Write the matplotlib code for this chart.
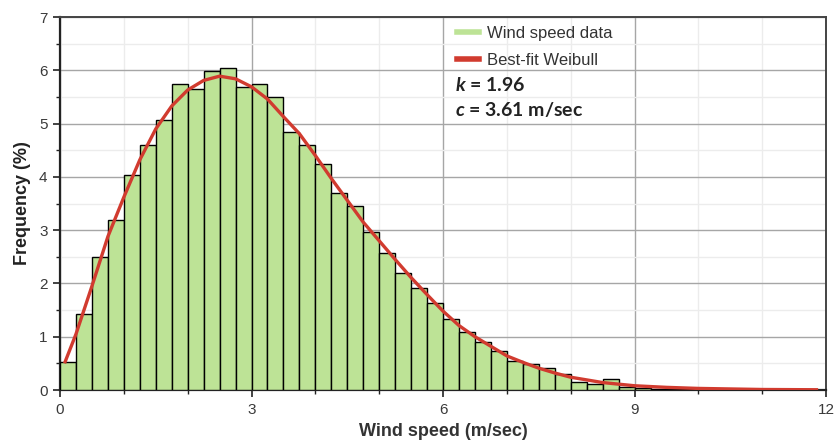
import matplotlib
matplotlib.use("Agg")
import matplotlib.pyplot as plt
import numpy as np
from matplotlib.ticker import MultipleLocator
from matplotlib.lines import Line2D

plt.rcParams['font.family'] = ['Liberation Sans', 'DejaVu Sans']
plt.rcParams['mathtext.fontset'] = 'custom'
plt.rcParams['mathtext.bfit'] = 'Lato:bold:italic'

# histogram: bin left edges (0.25 m/sec wide) and frequency (%)
bin_width = 0.25
freq = [0.52, 1.43, 2.49, 3.20, 4.04, 4.59, 5.07, 5.75, 5.65, 5.98,
        6.04, 5.69, 5.74, 5.50, 4.85, 4.59, 4.25, 3.70, 3.46, 2.97,
        2.58, 2.20, 1.91, 1.64, 1.33, 1.09, 0.91, 0.73, 0.55, 0.49,
        0.42, 0.30, 0.15, 0.11, 0.21, 0.05, 0.03, 0.02, 0.01, 0.01]
bin_left = np.arange(len(freq)) * bin_width

# best-fit Weibull curve
fit_x = [0.08, 0.25, 0.5, 0.75, 1.0, 1.25, 1.5, 1.75, 2.0, 2.25, 2.5, 2.75,
         3.0, 3.25, 3.5, 3.75, 4.0, 4.25, 4.5, 4.75, 5.0, 5.25, 5.5, 5.75,
         6.0, 6.25, 6.5, 6.75, 7.0, 7.25, 7.5, 7.75, 8.0, 8.5, 9.0, 9.5,
         10.0, 10.5, 11.0, 11.85]
fit_y = [0.53, 1.05, 1.95, 2.88, 3.62, 4.32, 4.90, 5.33, 5.63, 5.81, 5.89, 5.84,
         5.69, 5.46, 5.13, 4.81, 4.40, 3.97, 3.56, 3.15, 2.80, 2.45, 2.11, 1.79,
         1.48, 1.21, 1.00, 0.82, 0.64, 0.52, 0.41, 0.32, 0.24, 0.14, 0.08, 0.05,
         0.03, 0.02, 0.01, 0.005]

k_val = 1.96
c_val = 3.61

bar_color = '#bde396'
fit_color = '#d13b2f'

fig = plt.figure(figsize=(8.36, 4.43), dpi=100)
ax = fig.add_axes([0.0718, 0.1196, 0.9163, 0.842])

ax.bar(bin_left, freq, width=bin_width, align='edge', color=bar_color,
       edgecolor='black', linewidth=1.0, zorder=3)
ax.plot(fit_x, fit_y, color=fit_color, lw=2.4, zorder=4)

ax.set_xlim(0, 12)
ax.set_ylim(0, 7)
ax.xaxis.set_major_locator(MultipleLocator(3))
ax.xaxis.set_minor_locator(MultipleLocator(1))
ax.yaxis.set_major_locator(MultipleLocator(1))
ax.yaxis.set_minor_locator(MultipleLocator(0.5))
ax.grid(which='major', color='#a6a6a6', lw=1.0, zorder=0)
ax.grid(which='minor', color='#ececec', lw=1.0, zorder=0)
ax.set_axisbelow(True)

for s in ['left', 'bottom']:
    ax.spines[s].set_linewidth(1.6)
    ax.spines[s].set_color('#222222')
for s in ['top', 'right']:
    ax.spines[s].set_linewidth(1.4)
    ax.spines[s].set_color('#444444')

ax.tick_params(which='major', length=5, width=1.2, colors='#222222',
               labelsize=11, labelcolor='#3a3a3a', pad=4)
ax.tick_params(which='minor', length=3, width=1.0, colors='#222222')

ax.set_xlabel('Wind speed (m/sec)', fontsize=13, fontweight='bold',
              color='#333333', labelpad=5)
ax.set_ylabel('Frequency (%)', fontsize=13, fontweight='bold',
              color='#222222', labelpad=6)

handles = [Line2D([], [], color=bar_color, lw=4),
           Line2D([], [], color=fit_color, lw=4)]
leg = ax.legend(handles, ['Wind speed data', 'Best-fit Weibull'],
                loc='upper left', bbox_to_anchor=(0.518, 0.977), frameon=False,
                fontsize=12, handlelength=1.35, handletextpad=0.45,
                labelspacing=0.75, borderpad=0, borderaxespad=0)
for t in leg.get_texts():
    t.set_color('#333333')

ax.text(0.516, 0.818, r'$\mathbfit{k}$' + ' = {:.2f}'.format(k_val),
        transform=ax.transAxes, fontsize=14, fontweight='bold',
        family='Lato', color='#222222', va='center')
ax.text(0.516, 0.751, r'$\mathbfit{c}$' + ' = {:.2f} m/sec'.format(c_val),
        transform=ax.transAxes, fontsize=14, fontweight='bold',
        family='Lato', color='#222222', va='center')

fig.savefig('out.png', dpi=100)
